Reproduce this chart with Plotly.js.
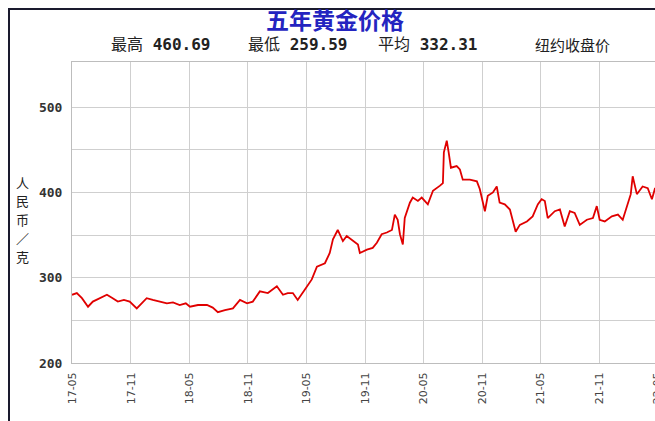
<!DOCTYPE html>
<html>
<head>
<meta charset="utf-8">
<script src="https://cdn.plot.ly/plotly-3.0.1.min.js"></script>
<style>
html,body{margin:0;padding:0;background:#fff;overflow:hidden;}
#chart{width:720px;height:450px;}
</style>
</head>
<body>
<div id="chart"></div>
<script>
// Dates and New York closing gold price (CNY per gram)
const dates = [
"2017-05-01","2017-05-16","2017-06-01","2017-06-20","2017-07-05","2017-07-27","2017-08-18","2017-09-05","2017-09-21","2017-10-10",
"2017-10-28","2017-11-19","2017-12-05","2017-12-20","2018-01-08","2018-01-30","2018-02-21","2018-03-12","2018-04-02","2018-04-21",
"2018-05-04","2018-05-29","2018-06-26","2018-07-14","2018-07-30","2018-08-21","2018-09-15","2018-10-07","2018-10-29","2018-11-16",
"2018-12-08","2019-01-02","2019-01-30","2019-02-18","2019-03-05","2019-03-21","2019-04-05","2019-04-27","2019-05-19","2019-06-04",
"2019-06-29","2019-07-14","2019-07-24","2019-08-08","2019-08-24","2019-09-05","2019-09-24","2019-10-10","2019-10-16","2019-11-07",
"2019-11-25","2019-12-08","2019-12-23","2020-01-08","2020-01-24","2020-02-02","2020-02-11","2020-02-18","2020-02-27","2020-03-04",
"2020-03-20","2020-03-29","2020-04-14","2020-04-26","2020-05-15","2020-05-31","2020-06-22","2020-07-01","2020-07-04","2020-07-13",
"2020-07-19","2020-07-26","2020-08-13","2020-08-23","2020-09-01","2020-09-23","2020-10-15","2020-10-24","2020-11-09","2020-11-18",
"2020-12-04","2020-12-16","2020-12-25","2021-01-10","2021-01-26","2021-02-04","2021-02-13","2021-02-26","2021-03-20","2021-04-07",
"2021-04-23","2021-05-05","2021-05-15","2021-05-24","2021-06-15","2021-07-01","2021-07-16","2021-08-01","2021-08-16","2021-09-01",
"2021-09-23","2021-10-12","2021-10-24","2021-11-02","2021-11-18","2021-12-10","2021-12-29","2022-01-13","2022-01-26","2022-02-07",
"2022-02-13","2022-02-26","2022-03-16","2022-04-01","2022-04-14","2022-04-23","2022-05-08"
];
const prices = [
280,282,276,266,272,276,280,276,272,274,
272,264,270,276,274,272,270,271,268,270,
266,268,268,265,259.6,262,264,274,270,272,
284,282,290,280,282,282,274,286,298,313,
317,329,345,356,343,349,343,339,329,333,
335,341,351,353,356,374,368,351,339,370,
388,394,390,394,386,402,408,411,447,460.7,
447,429,431,427,415,415,413,404,378,396,
400,407,388,386,380,368,354,362,366,372,
386,392,390,370,378,380,360,378,376,362,
368,370,384,368,366,372,374,368,384,398,
419,398,407,405,392,404,400
];
const yTickVals = [200,250,300,350,400,450,500];
const yTickText = ["200","","300","","400","","500"];
const titleText = "五年黄金价格";
const statLabels = ["最高","最低","平均"];
const statValues = ["460.69","259.59","332.31"];
const sourceText = "纽约收盘价";
const yTitleChars = ["人","民","币","／","克"];

// pixel helpers for the 720x450 canvas (plot area 72..700 x 62..363)
const L=72, T=62, PW=628, PH=301;
const px = v => (v - L)/PW;
const py = v => (T + PH - v)/PH;

const trace = {
  x: dates, y: prices, type: 'scatter', mode: 'lines',
  line: {color: '#e00000', width: 1.8}, hoverinfo: 'skip'
};

const statX = [160, 297, 427];
const annotations = statLabels.map((s,i)=>({
  xref:'paper', yref:'paper', x:px(statX[i]), y:py(45), showarrow:false,
  text: s + ' <b>' + statValues[i] + '</b>',
  font:{family:'"DejaVu Sans Mono","Noto Sans CJK SC",monospace', size:16, color:'#222'},
  xanchor:'center', yanchor:'middle'
}));
annotations.push({
  xref:'paper', yref:'paper', x:px(572), y:py(44), showarrow:false,
  text: sourceText,
  font:{family:'"Noto Sans CJK SC",sans-serif', size:15, color:'#222'},
  xanchor:'center', yanchor:'middle'
});
annotations.push({
  xref:'paper', yref:'paper', x:px(335), y:py(19), showarrow:false,
  text: '<b>' + titleText + '</b>',
  font:{family:'"Noto Sans CJK SC",sans-serif', size:23, color:'#2424c0'},
  xanchor:'center', yanchor:'middle'
});
const yTitleY = [182, 200, 219, 238, 256];
yTitleChars.forEach((c,i)=>annotations.push({
  xref:'paper', yref:'paper', x:px(22), y:py(yTitleY[i]), showarrow:false,
  text: c, borderpad:0,
  font:{family:'"Noto Sans CJK SC",sans-serif', size:13, color:'#222'},
  xanchor:'center', yanchor:'middle'
}));

const layout = {
  width:720, height:450,
  margin:{l:L, t:T, r:720-L-PW, b:450-T-PH, pad:0},
  paper_bgcolor:'#fff', plot_bgcolor:'#fff',
  showlegend:false,
  xaxis:{
    type:'date', range:['2017-05-01','2022-09-11'],
    tick0:'2017-05-01', dtick:'M6', tickformat:'%y-%m', tickangle:-90,
    showgrid:true, gridcolor:'#cfcfcf', gridwidth:1,
    showline:true, linecolor:'#bdbdbd', linewidth:1, mirror:true,
    ticks:'', ticklabelstandoff:4,
    tickfont:{family:'"DejaVu Sans",sans-serif', size:11, color:'#444'},
    zeroline:false, fixedrange:true
  },
  yaxis:{
    range:[200, 553], tickmode:'array', tickvals:yTickVals, ticktext:yTickText,
    showgrid:true, gridcolor:'#cfcfcf', gridwidth:1,
    showline:true, linecolor:'#bdbdbd', linewidth:1, mirror:true,
    ticks:'', ticklabelstandoff:6,
    tickfont:{family:'"DejaVu Sans Mono",monospace', size:13, color:'#333', weight:'bold'},
    zeroline:false, fixedrange:true
  },
  annotations: annotations,
  shapes:[{
    type:'rect', xref:'paper', yref:'paper',
    x0:px(9), x1:px(760), y0:py(500), y1:py(9),
    line:{color:'#1a1a2e', width:2}, fillcolor:'rgba(0,0,0,0)', layer:'above'
  }]
};

Plotly.newPlot('chart', [trace], layout, {staticPlot:true, displayModeBar:false});
</script>
</body>
</html>
